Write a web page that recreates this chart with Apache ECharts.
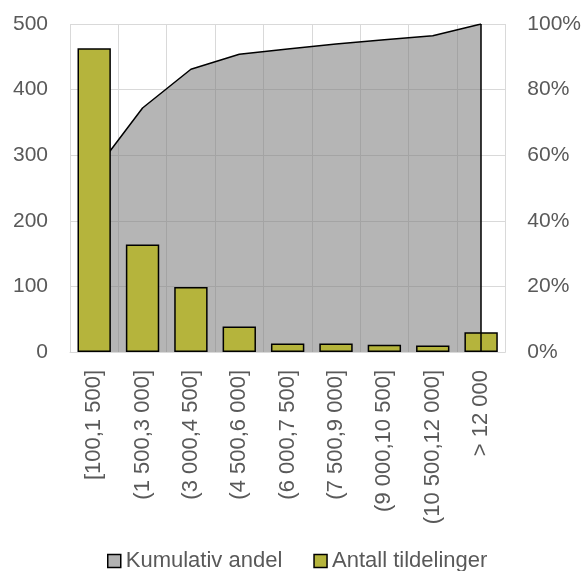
<!DOCTYPE html>
<html>
<head>
<meta charset="utf-8">
<script src="https://cdn.jsdelivr.net/npm/echarts@6/dist/echarts.min.js"></script>
<style>html,body{margin:0;padding:0;background:#fff}#c{width:584px;height:571px}</style>
</head>
<body>
<div id="c"></div>
<script>
const categories = ['[100,1 500]', '(1 500,3 000]', '(3 000,4 500]', '(4 500,6 000]', '(6 000,7 500]', '(7 500,9 000]', '(9 000,10 500]', '(10 500,12 000]', '> 12 000'];
const antall = [463, 164, 99, 39, 13, 13, 11, 10, 30];
const kumulativ = [54.9, 74.4, 86.2, 90.8, 92.4, 93.9, 95.2, 96.4, 100];
const leftTicks = [0, 100, 200, 300, 400, 500];
const rightTicks = [0, 20, 40, 60, 80, 100];

const font = 'Liberation Sans, Arial, sans-serif';
const chart = echarts.init(document.getElementById('c'), null, {renderer: 'canvas'});
chart.setOption({
  animation: false,
  backgroundColor: '#fff',
  grid: {left: 70, right: 78, top: 24, bottom: 219, containLabel: false},
  legend: {
    left: 102, top: 545,
    itemWidth: 13, itemHeight: 13, itemGap: 31,
    textStyle: {fontFamily: font, fontSize: 22, color: '#595959'},
    data: [
      {name: 'Kumulativ andel', icon: 'rect', itemStyle: {color: '#b2b2b2', borderColor: '#000', borderWidth: 1.5}},
      {name: 'Antall tildelinger', icon: 'rect', itemStyle: {color: '#b5b43c', borderColor: '#000', borderWidth: 1.5}}
    ]
  },
  xAxis: {
    type: 'category', data: categories, boundaryGap: true,
    axisLine: {show: true, lineStyle: {color: '#d9d9d9', width: 1}},
    axisTick: {show: false},
    splitLine: {show: true, lineStyle: {color: '#d9d9d9', width: 1}},
    axisLabel: {rotate: 90, margin: 18, fontFamily: font, fontSize: 22, color: '#595959', interval: 0}
  },
  yAxis: [
    {
      type: 'value', min: leftTicks[0], max: leftTicks[leftTicks.length - 1], interval: 100,
      axisLine: {show: false}, axisTick: {show: false},
      splitLine: {show: true, lineStyle: {color: '#d9d9d9', width: 1}},
      axisLabel: {margin: 22, fontFamily: font, fontSize: 21, color: '#595959'}
    },
    {
      type: 'value', min: rightTicks[0], max: rightTicks[rightTicks.length - 1], interval: 20,
      position: 'right',
      axisLine: {show: false}, axisTick: {show: false}, splitLine: {show: false},
      axisLabel: {margin: 22, fontFamily: font, fontSize: 21, color: '#595959', formatter: '{value}%'}
    }
  ],
  series: [
    {
      name: 'Kumulativ andel', type: 'line', yAxisIndex: 1, data: kumulativ,
      symbol: 'none', z: 2,
      lineStyle: {color: '#000', width: 1.5},
      itemStyle: {color: '#b2b2b2'},
      areaStyle: {color: 'rgba(120,120,120,0.55)', opacity: 1, origin: 'start'},
      markLine: {
        silent: true, symbol: 'none', label: {show: false},
        lineStyle: {color: '#000', width: 1.5, type: 'solid'},
        data: [[{coord: [categories[categories.length - 1], 0]}, {coord: [categories[categories.length - 1], 100]}]]
      }
    },
    {
      name: 'Antall tildelinger', type: 'bar', yAxisIndex: 0, data: antall,
      barWidth: '69%', z: 3,
      itemStyle: {color: '#b5b43c', borderColor: '#000', borderWidth: 1.5}
    }
  ]
});
</script>
</body>
</html>
